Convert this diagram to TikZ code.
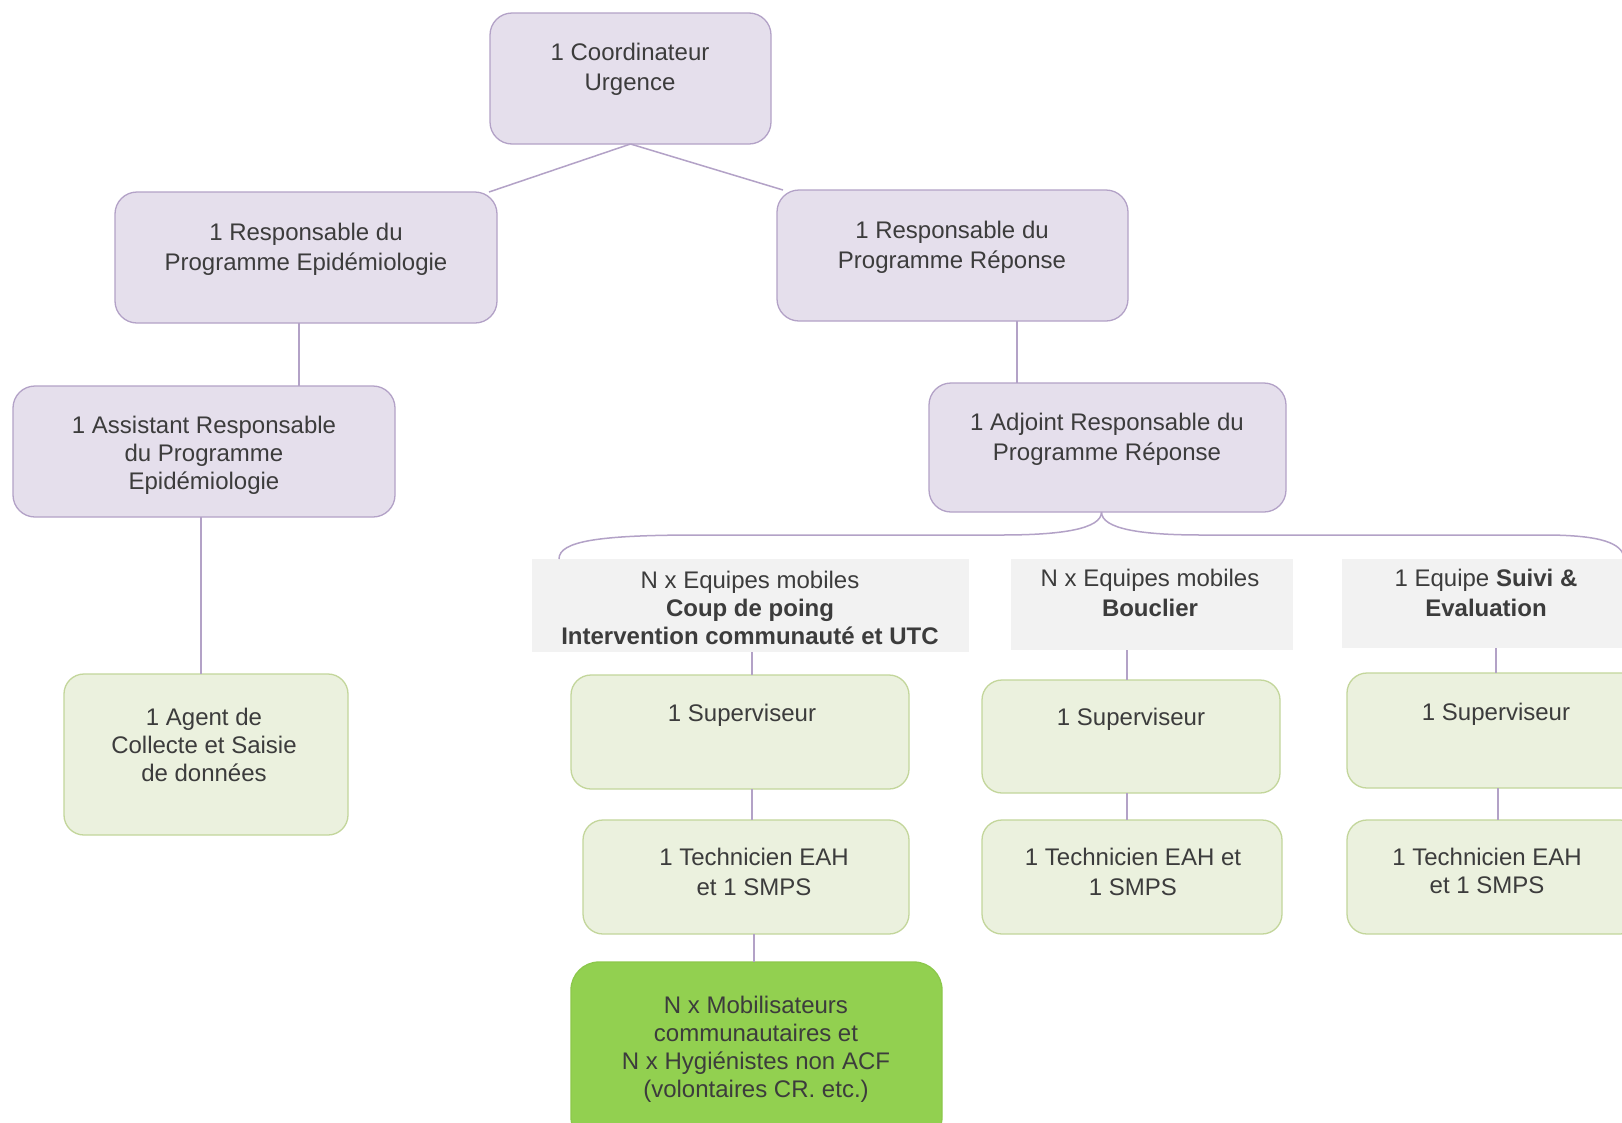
\documentclass[tikz,border=0pt]{standalone}
\usepackage{fontspec}
\setmainfont{Liberation Sans}
\usetikzlibrary{calc}
\definecolor{pfill}{HTML}{E5DFEC}
\definecolor{pline}{HTML}{B3A2C7}
\definecolor{gfill}{HTML}{EBF1DE}
\definecolor{gline}{HTML}{C3D69B}
\definecolor{bfill}{HTML}{92D050}
\definecolor{bline}{HTML}{8CC84B}
\definecolor{hfill}{HTML}{F2F2F2}
\definecolor{txtc}{HTML}{3C3C3C}
\tikzset{
  box/.style={rounded corners=22, inner sep=0, outer sep=0, line width=1.3},
  pbox/.style={box, fill=pfill, draw=pline},
  gbox/.style={box, fill=gfill, draw=gline, rounded corners=20},
  bbox/.style={box, fill=bfill, draw=bline, rounded corners=28},
  hbox/.style={fill=hfill, inner sep=0, outer sep=0},
  lbl/.style={anchor=north, align=center, inner sep=0, text=txtc, font=\fontsize{24}{30}\selectfont},
  lbls/.style={lbl, font=\fontsize{24}{28}\selectfont},
  conn/.style={draw=pline, line width=1.5},
}
\begin{document}
\begin{tikzpicture}[x=1pt,y=-1pt]
\clip (0,0) rectangle (1622,1122);
\fill[white] (0,0) rectangle (1622,1122);
% boxes
\node[pbox, minimum width=281, minimum height=131] (coord) at (630.5,78.5) {};
\node[pbox, minimum width=382, minimum height=131] (repi) at (306,257.5) {};
\node[pbox, minimum width=351, minimum height=131] (rrep) at (952.5,255.5) {};
\node[pbox, minimum width=382, minimum height=131] (asst) at (204,451.5) {};
\node[pbox, minimum width=357, minimum height=129] (adj) at (1107.5,447.5) {};
\node[gbox, minimum width=284, minimum height=161] (agent) at (206,754.5) {};
\node[hbox, minimum width=437, minimum height=93] (h1) at (750.5,605.5) {};
\node[hbox, minimum width=282, minimum height=91] (h2) at (1152,604.5) {};
\node[hbox, minimum width=288, minimum height=89] (h3) at (1486,603.5) {};
\node[gbox, minimum width=338, minimum height=114] (sup1) at (740,732) {};
\node[gbox, minimum width=298, minimum height=113] (sup2) at (1131,736.5) {};
\node[gbox, minimum width=298, minimum height=115] (sup3) at (1496,730.5) {};
\node[gbox, minimum width=326, minimum height=114] (tech1) at (746,877) {};
\node[gbox, minimum width=300, minimum height=114] (tech2) at (1132,877) {};
\node[gbox, minimum width=293, minimum height=114] (tech3) at (1493.5,877) {};
\node[bbox, minimum width=371, minimum height=183] (mobil) at (756.5,1053.5) {};
% texts
\node[lbl] (tcoord) at (630,43) {1 Coordinateur\\Urgence};
\node[lbl] (trepi) at (306,223) {1 Responsable du\\Programme Epidémiologie};
\node[lbl] (trrep) at (952,221) {1 Responsable du\\Programme Réponse};
\node[lbls] (tasst) at (204,416) {1 Assistant Responsable\\du Programme\\Epidémiologie};
\node[lbl] (tadj) at (1107,413) {1 Adjoint Responsable du\\Programme Réponse};
\node[lbls] (tagent) at (204,708) {1 Agent de\\Collecte et Saisie\\de données};
\node[lbls] (th1) at (750,571) {N x Equipes mobiles\\\textbf{Coup de poing}\\\textbf{Intervention communauté et UTC}};
\node[lbl] (th2) at (1150,569) {N x Equipes mobiles\\\textbf{Bouclier}};
\node[lbl] (th3) at (1486,569) {1 Equipe \textbf{Suivi \&}\\\textbf{Evaluation}};
\node[lbl] (tsup1) at (742,704) {1 Superviseur};
\node[lbl] (tsup2) at (1131,708) {1 Superviseur};
\node[lbl] (tsup3) at (1496,703) {1 Superviseur};
\node[lbl] (ttech1) at (754,848) {1 Technicien EAH\\et 1 SMPS};
\node[lbl] (ttech2) at (1133,848) {1 Technicien EAH et\\1 SMPS};
\node[lbls] (ttech3) at (1487,848) {1 Technicien EAH\\et 1 SMPS};
\node[lbls] (tmobil) at (756,996) {N x Mobilisateurs\\communautaires et\\N x Hygiénistes non ACF\\(volontaires CR. etc.)};
% connectors
\draw[conn] (coord.south) -- ([xshift=-8]repi.north east);
\draw[conn] (coord.south) -- ([xshift=6]rrep.north west);
\draw[conn] ([xshift=-7]repi.south) -- ([xshift=-7]repi.south |- asst.north);
\draw[conn] ([xshift=64.5]rrep.south) -- ([xshift=64.5]rrep.south |- adj.north);
\draw[conn] ([xshift=-3]asst.south) -- ([xshift=-3]asst.south |- agent.north);
\coordinate (apex) at ([xshift=-6]adj.south);
\coordinate (bl) at ([xshift=27]h1.north west);
\coordinate (br) at (1624,556);
\draw[conn] (apex) .. controls ($(apex)+(0,17)$) and ($(apex)+(-40,23)$) .. ($(apex)+(-100,23)$)
  -- ($(bl |- apex)+(140,23)$) .. controls ($(bl |- apex)+(40,23)$) and ($(bl)+(0,-18)$) .. (bl);
\draw[conn] (apex) .. controls ($(apex)+(0,17)$) and ($(apex)+(40,23)$) .. ($(apex)+(100,23)$)
  -- ($(br |- apex)+(-80,23)$) .. controls ($(br |- apex)+(-20,23)$) and ($(br)+(-4,-12)$) .. (br);
\draw[conn] ([xshift=1.5]h1.south) -- ([xshift=1.5]h1.south |- sup1.north);
\draw[conn] ([xshift=12]sup1.south) -- ([xshift=12]sup1.south |- tech1.north);
\draw[conn] ([xshift=8]tech1.south) -- ([xshift=8]tech1.south |- mobil.north);
\draw[conn] ([xshift=-25]h2.south) -- ([xshift=-25]h2.south |- sup2.north);
\draw[conn] ([xshift=-4]sup2.south) -- ([xshift=-4]sup2.south |- tech2.north);
\draw[conn] ([xshift=10]h3.south) -- ([xshift=10]h3.south |- sup3.north);
\draw[conn] ([xshift=2]sup3.south) -- ([xshift=2]sup3.south |- tech3.north);
\end{tikzpicture}
\end{document}
